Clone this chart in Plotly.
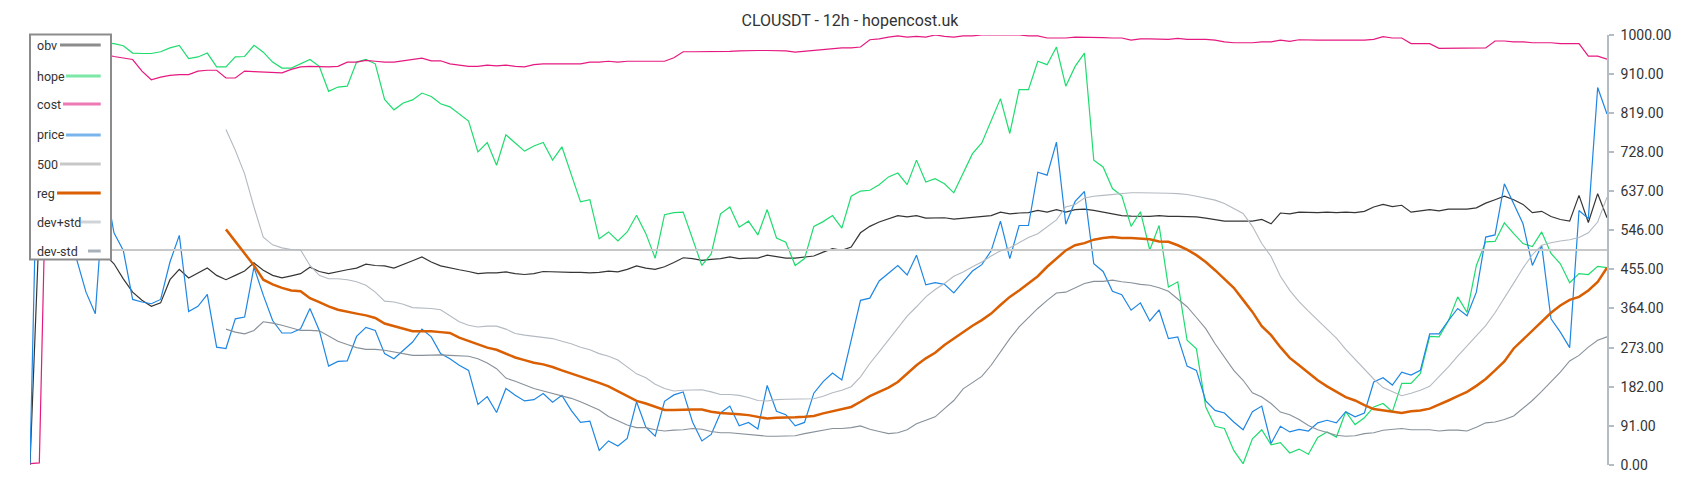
import plotly.graph_objects as go

N = 170
idx = list(range(N))

price = [3, 950, 800, 700, 600, 478, 402, 352, 660, 540,
         499, 385, 379, 375, 385, 472, 534, 357, 369, 397,
         274, 271, 340, 344, 460, 395, 336, 307, 307, 317,
         364, 313, 230, 241, 242, 299, 320, 313, 259, 247,
         267, 286, 316, 298, 259, 247, 232, 220, 141, 159,
         122, 178, 162, 149, 152, 166, 146, 162, 127, 99,
         102, 34, 56, 44, 62, 147, 88, 67, 148, 163,
         170, 100, 56, 71, 121, 137, 91, 99, 84, 185,
         125, 117, 91, 99, 167, 194, 214, 198, 290, 383,
         388, 428, 446, 464, 442, 488, 419, 424, 420, 400,
         426, 451, 466, 498, 567, 480, 557, 557, 681, 674,
         751, 560, 613, 636, 468, 450, 404, 396, 360, 377,
         335, 361, 294, 298, 230, 220, 149, 127, 121, 100,
         82, 124, 137, 50, 90, 77, 83, 79, 98, 104,
         98, 124, 112, 121, 193, 203, 186, 216, 209, 220,
         305, 305, 336, 364, 347, 402, 530, 535, 654, 607,
         561, 464, 511, 340, 309, 273, 592, 573, 878, 816]

obv = [0, 560, 545, 535, 525, 515, 505, 498, 490, 468,
       433, 402, 383, 369, 377, 431, 455, 435, 447, 458,
       441, 431, 441, 451, 470, 453, 441, 435, 440, 445,
       460, 450, 445, 450, 454, 458, 467, 464, 463, 458,
       466, 475, 484, 472, 463, 458, 454, 450, 445, 447,
       447, 449, 445, 443, 445, 450, 449, 449, 448, 448,
       447, 448, 451, 449, 455, 463, 458, 455, 461, 471,
       482, 480, 476, 478, 480, 484, 480, 481, 481, 488,
       485, 481, 481, 484, 486, 495, 503, 499, 507, 540,
       555, 565, 573, 580, 577, 580, 574, 575, 575, 572,
       574, 577, 578, 580, 588, 584, 586, 587, 592, 588,
       594, 588, 594, 595, 592, 588, 584, 580, 579, 578,
       578, 580, 578, 578, 578, 577, 574, 571, 567, 567,
       567, 567, 571, 561, 586, 584, 588, 587, 587, 588,
       587, 588, 587, 590, 600, 606, 601, 604, 588, 591,
       594, 591, 595, 595, 595, 598, 609, 617, 625, 617,
       606, 587, 590, 578, 571, 567, 627, 564, 631, 575]

hope = [None, 1000, 1000, 995, 990, 987, 985, 983, 982, 980,
        975, 958, 957, 957, 961, 970, 976, 945, 949, 958,
        926, 926, 949, 950, 976, 960, 937, 923, 923, 933,
        943, 927, 869, 879, 881, 937, 943, 933, 850, 826,
        842, 849, 865, 857, 840, 833, 817, 800, 728, 750,
        697, 768, 749, 730, 742, 750, 709, 740, 676, 612,
        617, 526, 542, 521, 542, 581, 538, 481, 582, 587,
        588, 525, 464, 491, 584, 600, 553, 567, 535, 594,
        528, 518, 464, 480, 555, 566, 580, 551, 625, 637,
        639, 652, 670, 679, 652, 709, 658, 666, 654, 633,
        678, 724, 749, 799, 852, 771, 873, 873, 939, 931,
        972, 881, 927, 958, 709, 693, 643, 626, 555, 589,
        500, 557, 414, 426, 290, 270, 135, 90, 85, 34,
        3, 61, 82, 47, 52, 28, 37, 25, 64, 77,
        65, 124, 94, 110, 135, 143, 124, 190, 190, 213,
        299, 298, 335, 391, 355, 464, 519, 520, 563, 538,
        515, 508, 542, 492, 468, 424, 445, 443, 462, 459]

cost = [3, 5, 955, 958, 960, 960, 958, 956, 955, 950,
        947, 943, 916, 896, 902, 906, 908, 908, 916, 918,
        918, 900, 900, 916, 915, 914, 914, 912, 920, 926,
        927, 926, 926, 927, 937, 937, 941, 939, 937, 937,
        940, 943, 946, 940, 940, 933, 930, 927, 927, 930,
        928, 930, 927, 926, 931, 933, 933, 933, 933, 933,
        937, 937, 939, 937, 939, 939, 939, 939, 939, 947,
        961, 961, 961, 961, 961, 962, 963, 964, 964, 964,
        964, 963, 960, 962, 964, 967, 969, 970, 970, 972,
        989, 991, 995, 998, 995, 997, 995, 1000, 997, 995,
        998, 998, 1000, 1000, 1000, 1000, 1000, 998, 998, 993,
        993, 993, 995, 995, 995, 994, 993, 993, 988, 991,
        991, 990, 990, 992, 990, 990, 990, 988, 984, 982,
        982, 982, 984, 984, 988, 985, 989, 988, 988, 988,
        988, 988, 988, 988, 990, 996, 993, 993, 980, 980,
        980, 969, 969, 970, 969, 970, 970, 986, 986, 984,
        984, 982, 982, 982, 980, 980, 980, 951, 951, 944]

reg = [None] * 21 + [
    548, 520, 493, 464, 431, 420, 412, 406, 404,
    388, 379, 369, 361, 356, 352, 348, 342, 329, 323,
    316, 311, 311, 311, 309, 307, 296, 288, 281, 273,
    268, 259, 250, 244, 238, 234, 228, 220, 213, 205,
    199, 191, 183, 172, 161, 149, 143, 136, 128, 128,
    129, 129, 129, 124, 121, 120, 118, 116, 112, 108,
    110, 110, 111, 112, 114, 120, 125, 130, 135, 147,
    160, 170, 180, 193, 213, 232, 248, 261, 279, 294,
    310, 324, 337, 352, 372, 391, 406, 422, 439, 461,
    480, 499, 511, 516, 524, 528, 530, 528, 528, 526,
    525, 520, 519, 511, 501, 488, 472, 453, 433, 412,
    384, 356, 323, 302, 274, 249, 232, 214, 197, 183,
    170, 158, 150, 139, 130, 127, 125, 121, 125, 127,
    131, 140, 150, 160, 170, 184, 200, 220, 241, 271,
    292, 313, 335, 354, 371, 384, 391, 406, 426, 459]

dev_plus = [None] * 21 + [
    780, 732, 677, 600, 530, 512, 505, 501, 500,
    464, 441, 433, 433, 431, 426, 418, 402, 381, 379,
    374, 366, 365, 364, 361, 348, 333, 325, 321, 323,
    323, 316, 306, 302, 299, 296, 294, 288, 282, 274,
    268, 259, 253, 244, 228, 212, 203, 188, 178, 172,
    174, 175, 175, 170, 164, 164, 162, 157, 150, 149,
    152, 153, 153, 153, 154, 160, 168, 174, 182, 205,
    236, 263, 290, 317, 346, 368, 391, 408, 422, 439,
    449, 461, 472, 486, 498, 505, 518, 529, 538, 554,
    570, 600, 606, 621, 625, 627, 629, 631, 633, 633,
    633, 633, 632, 631, 629, 625, 621, 616, 608, 596,
    585, 555, 515, 485, 439, 406, 380, 358, 337, 316,
    295, 269, 246, 224, 200, 180, 170, 161, 167, 174,
    183, 205, 228, 253, 276, 299, 324, 354, 387, 423,
    458, 489, 511, 517, 521, 524, 529, 540, 565, 623]

dev_minus = [None] * 21 + [
    316, 309, 305, 313, 333, 330, 325, 319, 313,
    313, 312, 300, 288, 280, 273, 269, 269, 267, 263,
    259, 255, 255, 256, 256, 255, 254, 253, 247, 237,
    224, 202, 195, 187, 178, 172, 166, 161, 155, 147,
    138, 128, 113, 103, 93, 87, 87, 82, 79, 81,
    82, 85, 83, 78, 75, 75, 73, 71, 68, 67,
    67, 67, 68, 73, 77, 81, 85, 85, 87, 91,
    83, 78, 73, 75, 82, 96, 104, 112, 131, 150,
    177, 191, 206, 232, 263, 294, 321, 343, 364, 383,
    400, 402, 412, 422, 427, 427, 430, 426, 424, 420,
    418, 412, 404, 387, 368, 343, 317, 282, 251, 220,
    197, 168, 158, 143, 123, 117, 106, 92, 82, 75,
    69, 67, 68, 73, 75, 81, 83, 85, 82, 82,
    82, 79, 81, 81, 79, 88, 98, 100, 106, 114,
    131, 150, 171, 193, 216, 242, 255, 274, 290, 298]

LEVEL_500 = 500
level = [LEVEL_500 for _ in idx]

y_ticks = [0, 91, 182, 273, 364, 455, 546, 637, 728, 819, 910, 1000]
y_ticktext = [f"{v:.2f}" for v in y_ticks]

legend_names = ["obv", "hope", "cost", "price", "500", "reg", "dev+std", "dev-std"]
line_colors = ["#353535", "#1fdc6f", "#e5197f", "#1e86e3", "#c8c8c8", "#d95f02", "#b3bac1", "#88919a"]
legend_colors = ["#8c8c8c", "#7be8a6", "#ef78b6", "#79b5ec", "#c8c8c8", "#d95f02", "#d0d4d8", "#a9b1b8"]
line_widths = [1.2, 1.2, 1.2, 1.2, 2, 2.5, 1.1, 1.1]
series = [obv, hope, cost, price, level, reg, dev_plus, dev_minus]

FONT = "Roboto"
# the page body adds an 8px offset; the figure is laid out in page pixels minus that offset
OFF = 8
W, H = 1700 - 2 * OFF, 500 - 2 * OFF
L, R, T, B = 30 - OFF, 1607 - OFF, 35 - OFF, 465 - OFF

fig = go.Figure()
for name, ys, c, w in zip(legend_names, series, line_colors, line_widths):
    fig.add_trace(go.Scatter(x=idx, y=ys, mode="lines", name=name,
                             line=dict(color=c, width=w), showlegend=False,
                             hoverinfo="skip"))


def px2x(px):
    return (px - OFF - L) / (R - L)


def py2y(py):
    return (B - (py - OFF)) / (B - T)


shapes = [dict(type="rect", xref="paper", yref="paper",
               x0=px2x(30), x1=px2x(111), y0=py2y(259.5), y1=py2y(34.5),
               line=dict(color="#8c8c8c", width=2), fillcolor="white", layer="above")]
annotations = []
item_y = [45, 76, 104, 135, 164, 193, 222, 251]
item_x0 = [60, 66, 63, 66, 60, 57, 81, 88]
for name, c, yy, x0 in zip(legend_names, legend_colors, item_y, item_x0):
    shapes.append(dict(type="line", xref="paper", yref="paper",
                       x0=px2x(x0), x1=px2x(100.7), y0=py2y(yy), y1=py2y(yy),
                       line=dict(color=c, width=3), layer="above"))
    annotations.append(dict(text=name, xref="paper", yref="paper",
                            x=px2x(35), y=py2y(yy), xanchor="left", yanchor="middle",
                            showarrow=False, font=dict(family=FONT, size=12.5, color="#333333")))

fig.update_layout(
    width=W, height=H,
    margin=dict(l=L, r=W - R, t=T, b=H - B, pad=0),
    paper_bgcolor="white", plot_bgcolor="white",
    title=dict(text="CLOUSDT - 12h - hopencost.uk", x=0.5, xanchor="center",
               y=1 - (20 - OFF) / H, yanchor="middle",
               font=dict(family=FONT, size=16, color="#333333")),
    xaxis=dict(visible=False, range=[0, N - 1], fixedrange=True),
    yaxis=dict(side="right", range=[0, 1000], tickmode="array",
               tickvals=y_ticks, ticktext=y_ticktext, showgrid=False, zeroline=False,
               showline=True, linecolor="#b4bcc4", linewidth=1.5,
               ticks="outside", ticklen=5, tickcolor="#b4bcc4", tickwidth=1.5,
               ticklabelstandoff=4,
               tickfont=dict(family=FONT, size=14, color="#333333")),
    shapes=shapes, annotations=annotations,
    showlegend=False,
)

fig.write_html("out.html")
